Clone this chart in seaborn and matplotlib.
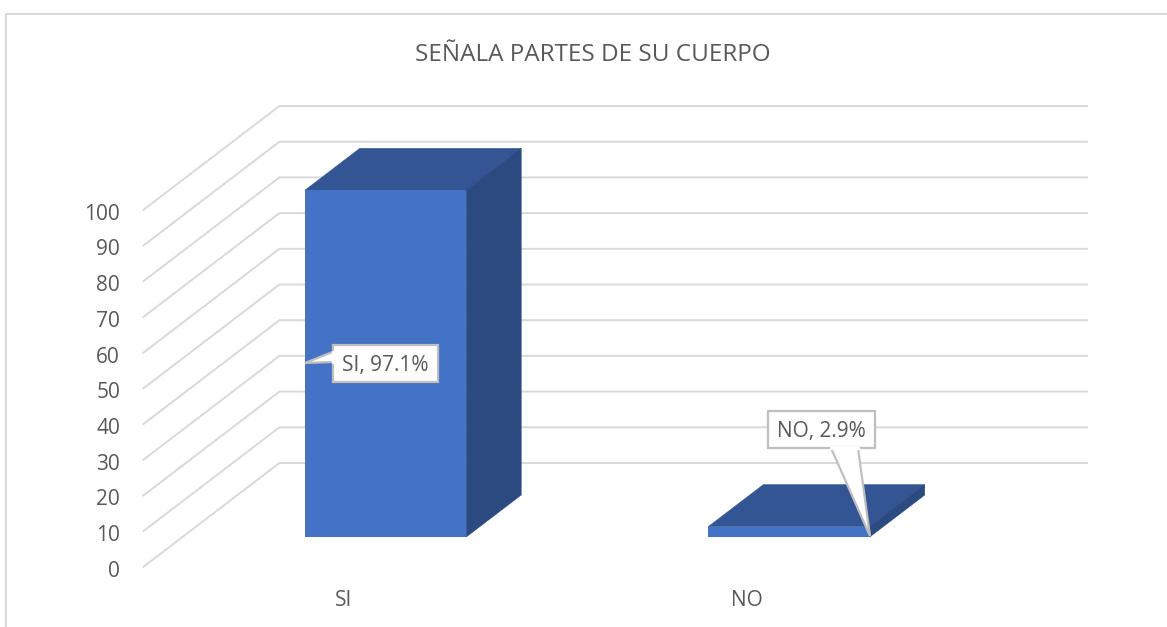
import matplotlib
matplotlib.use("Agg")
import matplotlib.pyplot as plt
from matplotlib.patches import Polygon
import numpy as np
import pandas as pd
import seaborn as sns

categories = ["SI", "NO"]
values = [97.1, 2.9]
point_labels = ["SI, 97.1%", "NO, 2.9%"]
y_ticks = list(range(0, 101, 10))
title = "SEÑALA PARTES DE SU CUERPO"

W, H = 1167, 627
TEXT = "#595959"
GRID = "#d9d9d9"
FRONT = "#4472c4"
TOP = "#335593"
SIDE = "#2a4a80"

sns.set_style("white")
plt.rcParams["font.family"] = ["Open Sans", "DejaVu Sans"]

fig = plt.figure(figsize=(W / 100, H / 100), dpi=100)
ax = fig.add_axes([0, 0, 1, 1])


# picture pixels -> data, bars sit at 385.5 / 789 px, value 0 at y=537 px
def px(x, y):
    return (x - 385.5) / 403.5, (537 - y) / 3.57


# 3d look: one unit of depth shifts by the bar depth (55px right, 42px up)
ddx, ddy = 55 / 403.5, 42 / 3.57
d_front, d_back = -30 / 42, 74 / 42
left_x = px(182.5, 0)[0]
right_x = px(990.5, 0)[0]


def proj(x, v, d):
    return x + d * ddx, v + d * ddy


df = pd.DataFrame({"cat": categories, "val": values})
sns.barplot(data=df, x="cat", y="val", color=FRONT, saturation=1, width=0.4, linewidth=0, ax=ax, zorder=3)
half = 0.2

for v in y_ticks:
    p0 = proj(left_x, v, d_front)
    p1 = proj(left_x, v, d_back)
    p2 = proj(right_x, v, d_back)
    ax.plot([p0[0], p1[0], p2[0]], [p0[1], p1[1], p2[1]], color=GRID, lw=1.4, zorder=1, solid_joinstyle="miter")

for i, v in enumerate(values):
    x0, x1 = i - half, i + half
    top = [proj(x0, v, 0), proj(x1, v, 0), proj(x1, v, 1), proj(x0, v, 1)]
    side = [proj(x1, 0, 0), proj(x1, v, 0), proj(x1, v, 1), proj(x1, 0, 1)]
    ax.add_patch(Polygon(top, facecolor=TOP, edgecolor=TOP, lw=0.4, zorder=2.9))
    ax.add_patch(Polygon(side, facecolor=SIDE, edgecolor=SIDE, lw=0.4, zorder=2.9))

ax.set_xlim(px(0, 0)[0], px(W, 0)[0])
ax.set_ylim(px(0, H)[1], px(0, 0)[1])

# axis labels live on the front plane of the floor
ax.set_yticks([proj(0, v, d_front)[1] - 0.5 for v in y_ticks], [str(v) for v in y_ticks])
ax.set_xticks([proj(i, 0, d_front)[0] - 0.007 for i in range(len(categories))], categories)
ax.tick_params(axis="y", length=0, pad=-120 * 0.72, labelsize=15, labelcolor=TEXT)
ax.tick_params(axis="x", length=0, pad=-36.5 * 0.72, labelsize=15, labelcolor=TEXT)
ax.set_xlabel("")
ax.set_ylabel("")
sns.despine(ax=ax, left=True, bottom=True)

ax.set_title(title, x=592.5 / W, y=1 - 55 / H, va="center", color=TEXT, fontsize=17.5, pad=0)

# chart border, only top and left are visible
bx, by = px(6, 14)
ax.plot([bx, bx, px(W, 0)[0]], [px(0, H)[1], by, by], color=GRID, lw=1.5, zorder=1)

# callouts
boxes = [(332.5, 345, 438, 382), (768, 411, 875, 448)]
wedges = [[(332.5, 352), (305, 363), (332.5, 362)], [(831, 448), (870, 536), (858, 448)]]
for lab, (x0, y0, x1, y1), w in zip(point_labels, boxes, wedges):
    outline = [(x0, y0), (x1, y0), (x1, y1), (x0, y1)]
    ax.add_patch(Polygon([px(*p) for p in outline], facecolor="white", edgecolor="#bfbfbf", lw=1.6, zorder=5))
    ax.add_patch(Polygon([px(*p) for p in w], closed=False, facecolor="white", edgecolor="#bfbfbf", lw=1.6, zorder=6))
    # hide the box edge under the wedge mouth
    ax.plot(*zip(*[px(*w[0]), px(*w[2])]), color="white", lw=2.4, zorder=6)
    tx, ty = px((x0 + x1) / 2, (y0 + y1) / 2 + 2)
    ax.text(tx, ty, lab, ha="center", va="center", color=TEXT, fontsize=15, zorder=7)

fig.savefig("out.png", dpi=100)
